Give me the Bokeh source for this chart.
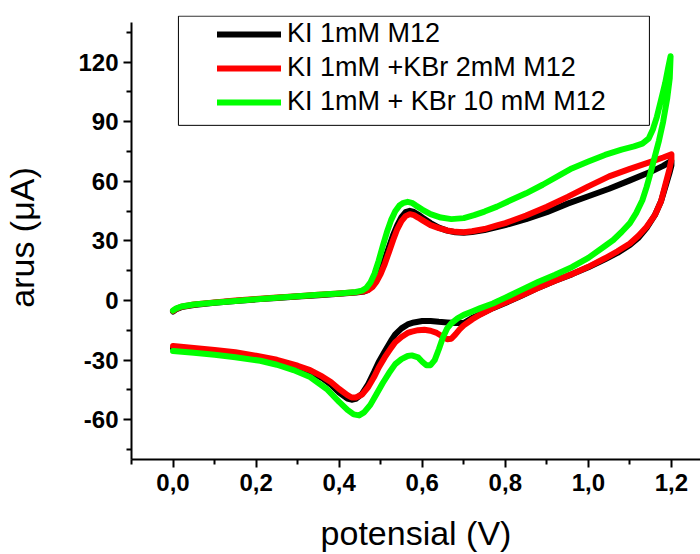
from bokeh.plotting import figure
from bokeh.models import (Range1d, FixedTicker, Legend, LegendItem,
                          BoxAnnotation, ColumnDataSource)
from bokeh.embed import file_html
from bokeh.resources import INLINE

# ---------------------------------------------------------------------------
# Cyclic voltammograms (potential in V, current in µA); each loop runs from
# 0.0 V up to 1.2 V and back to 0.0 V.
# ---------------------------------------------------------------------------
ki_potential = [
    0.000, 0.008, 0.02, 0.05, 0.10, 0.15, 0.20, 0.25, 0.30, 0.35, 0.40, 0.44,
    0.46, 0.47, 0.48, 0.49, 0.50, 0.51, 0.52, 0.53, 0.54, 0.55, 0.56, 0.57,
    0.58, 0.59, 0.60, 0.62, 0.64, 0.66, 0.68, 0.70, 0.72, 0.75, 0.78, 0.80,
    0.85, 0.90, 0.95, 1.00, 1.05, 1.10, 1.15, 1.18, 1.20,
    1.20, 1.195, 1.185, 1.175, 1.16, 1.14, 1.12, 1.10, 1.07, 1.04, 1.00, 0.96,
    0.92, 0.88, 0.84, 0.80, 0.77, 0.74, 0.72, 0.70, 0.68, 0.66, 0.64, 0.62,
    0.60, 0.58, 0.565, 0.55, 0.535, 0.525, 0.51, 0.495, 0.484, 0.47, 0.455,
    0.44, 0.43, 0.42, 0.40, 0.38, 0.36, 0.33, 0.30, 0.25, 0.20, 0.15, 0.10,
    0.05, 0.00,
]
ki_current = [
    -5.5, -4.3, -3.3, -2.2, -1.1, -0.2, 0.6, 1.3, 2.0, 2.7, 3.4, 4.0,
    4.6, 5.5, 7.5, 11.0, 15.5, 21.0, 27.0, 33.0, 38.0, 42.0, 44.5, 45.2,
    44.6, 43.3, 41.8, 39.0, 36.7, 35.2, 34.4, 34.2, 34.5, 35.5, 37.0, 38.0,
    41.0, 44.5, 48.8, 52.5, 56.3, 60.5, 64.8, 67.8, 70.3,
    68.0, 64.0, 57.0, 50.0, 43.0, 36.5, 31.5, 28.0, 24.0, 20.8, 16.8, 13.2,
    10.0, 6.5, 2.5, -1.2, -3.8, -6.8, -8.8, -11.3, -11.3, -11.0, -10.7, -10.3,
    -10.3, -11.0, -12.0, -14.0, -17.0, -20.2, -25.5, -31.0, -36.0, -42.0, -47.0,
    -49.5, -49.9, -49.3, -46.3, -42.3, -39.2, -35.8, -33.3, -30.6, -28.8, -27.2,
    -26.0, -24.9, -24.0,
]

ki_kbr2_potential = [
    0.000, 0.008, 0.02, 0.05, 0.10, 0.15, 0.20, 0.25, 0.30, 0.35, 0.40, 0.44,
    0.46, 0.47, 0.48, 0.49, 0.50, 0.51, 0.52, 0.53, 0.54, 0.55, 0.56, 0.57,
    0.58, 0.59, 0.60, 0.62, 0.64, 0.66, 0.68, 0.70, 0.72, 0.75, 0.78, 0.80,
    0.85, 0.90, 0.95, 1.00, 1.05, 1.10, 1.15, 1.18, 1.20,
    1.20, 1.195, 1.185, 1.175, 1.16, 1.14, 1.12, 1.10, 1.07, 1.04, 1.00, 0.96,
    0.92, 0.88, 0.84, 0.80, 0.77, 0.74, 0.72, 0.70, 0.69, 0.68, 0.67, 0.66,
    0.65, 0.635, 0.62, 0.605, 0.59, 0.575, 0.565, 0.55, 0.535, 0.525, 0.51,
    0.495, 0.484, 0.47, 0.455, 0.44, 0.43, 0.42, 0.40, 0.38, 0.36, 0.33, 0.30,
    0.25, 0.20, 0.15, 0.10, 0.05, 0.00,
]
ki_kbr2_current = [
    -5.2, -4.1, -3.1, -2.0, -0.9, 0.0, 0.8, 1.5, 2.2, 2.9, 3.6, 4.2,
    4.7, 5.3, 6.8, 9.5, 13.5, 18.5, 24.5, 30.5, 36.0, 40.0, 42.5, 43.5,
    43.0, 41.8, 40.5, 38.0, 36.5, 35.3, 34.6, 34.4, 34.9, 36.0, 37.8, 39.0,
    42.8, 47.2, 52.2, 57.5, 62.5, 66.3, 69.8, 72.0, 73.6,
    71.0, 66.0, 58.0, 50.0, 43.0, 37.0, 32.5, 28.7, 24.8, 21.3, 17.0, 13.3,
    10.0, 6.5, 2.7, -1.0, -3.8, -7.0, -9.5, -12.5, -14.5, -17.0, -19.2, -19.5,
    -18.2, -16.3, -15.2, -14.7, -14.9, -15.6, -16.3, -18.3, -21.0, -23.8, -28.5,
    -33.8, -38.5, -43.5, -47.3, -48.8, -48.8, -47.6, -44.5, -41.0, -38.3, -35.0,
    -32.8, -29.8, -27.8, -26.0, -24.9, -23.9, -22.9,
]

ki_kbr10_potential = [
    0.000, 0.008, 0.02, 0.05, 0.09, 0.15, 0.21, 0.25, 0.30, 0.35, 0.40, 0.44,
    0.455, 0.465, 0.475, 0.485, 0.495, 0.505, 0.515, 0.525, 0.535, 0.545,
    0.555, 0.565, 0.575, 0.585, 0.60, 0.62, 0.645, 0.67, 0.70, 0.725, 0.75,
    0.78, 0.81, 0.85, 0.89, 0.93, 0.96, 1.00, 1.04, 1.08, 1.11, 1.13, 1.145,
    1.155, 1.165, 1.175, 1.185, 1.192, 1.198,
    1.196, 1.19, 1.18, 1.17, 1.16, 1.15, 1.14, 1.13, 1.115, 1.10, 1.08, 1.06,
    1.04, 1.00, 0.96, 0.92, 0.88, 0.84, 0.80, 0.77, 0.74, 0.72, 0.70, 0.685,
    0.67, 0.66, 0.65, 0.64, 0.63, 0.62, 0.61, 0.60, 0.59, 0.575, 0.565, 0.55,
    0.535, 0.52, 0.505, 0.49, 0.475, 0.46, 0.448, 0.435, 0.42, 0.40, 0.37,
    0.33, 0.29, 0.25, 0.21, 0.15, 0.10, 0.05, 0.00,
]
ki_kbr10_current = [
    -5.0, -3.9, -3.0, -2.0, -1.2, -0.2, 0.8, 1.4, 2.2, 2.9, 3.6, 4.3,
    5.0, 6.3, 9.0, 13.5, 20.0, 27.5, 34.5, 40.5, 45.0, 47.8,
    49.2, 49.7, 49.2, 47.8, 45.8, 43.5, 41.8, 41.0, 41.5, 43.0, 44.8,
    47.3, 50.2, 54.0, 58.3, 63.0, 66.5, 70.0, 73.3, 76.0, 77.6, 79.0, 81.5,
    86.0, 92.5, 101.0, 109.5, 117.0, 123.0,
    112.0, 102.0, 90.0, 80.5, 72.5, 64.5, 57.0, 50.5, 44.0, 39.0, 34.5, 30.5,
    27.5, 21.5, 16.8, 13.0, 9.5, 5.5, 1.5, -1.5, -3.8, -5.5, -7.2, -9.0,
    -11.5, -14.0, -18.5, -24.5, -30.0, -32.5, -32.6, -30.8, -28.6, -27.6, -27.9,
    -29.5, -32.0, -36.5, -41.5, -47.0, -52.5, -56.3, -57.8, -57.3, -55.0, -51.0,
    -44.5, -38.5, -35.0, -32.3, -30.3, -28.5, -27.3, -26.3, -25.4,
]

series_labels = ["KI 1mM M12", "KI 1mM +KBr 2mM M12", "KI 1mM + KBr 10 mM M12"]
series_colors = ["#000000", "#ff0000", "#00ff00"]

x_major_ticks = [0.0, 0.2, 0.4, 0.6, 0.8, 1.0, 1.2]
x_tick_labels = ["0,0", "0,2", "0,4", "0,6", "0,8", "1,0", "1,2"]
x_minor_ticks = [-0.1, 0.1, 0.3, 0.5, 0.7, 0.9, 1.1]
y_major_ticks = [-60, -30, 0, 30, 60, 90, 120]
y_tick_labels = ["-60", "-30", "0", "30", "60", "90", "120"]
y_minor_ticks = [-75, -45, -15, 15, 45, 75, 105, 135]

FONT = "Liberation Sans"

p = figure(width=700, height=554, output_backend="svg", toolbar_location=None,
           x_range=Range1d(-0.1, 1.27), y_range=Range1d(-80, 143.5),
           min_border_left=131, min_border_right=0, min_border_top=15,
           min_border_bottom=91)
p.outline_line_color = None
p.xgrid.visible = False
p.ygrid.visible = False
p.background_fill_color = "white"
p.border_fill_color = "white"

sources = [
    ColumnDataSource(dict(v=ki_potential, i=ki_current)),
    ColumnDataSource(dict(v=ki_kbr2_potential, i=ki_kbr2_current)),
    ColumnDataSource(dict(v=ki_kbr10_potential, i=ki_kbr10_current)),
]
renderers = []
for src, color in zip(sources, series_colors):
    r = p.line("v", "i", source=src, line_color=color, line_width=6,
               line_join="round", line_cap="round")
    renderers.append(r)

# axes
p.xaxis.ticker = FixedTicker(ticks=x_major_ticks, minor_ticks=x_minor_ticks)
p.yaxis.ticker = FixedTicker(ticks=y_major_ticks, minor_ticks=y_minor_ticks)
p.xaxis.major_label_overrides = dict(zip(x_major_ticks, x_tick_labels))
p.yaxis.major_label_overrides = dict(zip(y_major_ticks, y_tick_labels))
p.yaxis.bounds = (-80, 140)

for ax in (p.xaxis[0], p.yaxis[0]):
    ax.axis_line_width = 2
    ax.axis_line_color = "black"
    ax.major_tick_line_width = 2
    ax.minor_tick_line_width = 2
    ax.major_tick_line_color = "black"
    ax.minor_tick_line_color = "black"
    ax.major_tick_out = 8
    ax.major_tick_in = 0
    ax.minor_tick_out = 5
    ax.minor_tick_in = 0
    ax.major_label_text_font = FONT
    ax.major_label_text_font_style = "bold"
    ax.major_label_text_font_size = "24px"
    ax.major_label_text_color = "black"
    ax.axis_label_text_font = FONT
    ax.axis_label_text_font_style = "normal"
    ax.axis_label_text_font_size = "34px"
    ax.axis_label_text_color = "black"

p.xaxis.major_label_standoff = 6
p.yaxis.major_label_standoff = 5

p.xaxis.axis_label = "potensial (V)"
p.xaxis.axis_label_standoff = 20
p.yaxis.axis_label = "arus (\u03bcA)"
p.yaxis.axis_label_standoff = 34

# legend with its frame
legend = Legend(
    items=[LegendItem(label=lab, renderers=[r])
           for lab, r in zip(series_labels, renderers)],
    location=(80, 336), margin=0, padding=6, spacing=3,
    glyph_width=64, glyph_height=30, label_height=30, label_standoff=6,
    label_text_font=FONT, label_text_font_size="27px",
    label_text_color="black", border_line_alpha=0, background_fill_alpha=0,
)
p.add_layout(legend, "center")
p.add_layout(BoxAnnotation(left=0.013, right=1.147, bottom=88.2, top=143.2,
                           fill_alpha=0, line_color="black", line_alpha=1,
                           line_width=1, line_dash="solid"))

open("out.html", "w").write(file_html(p, INLINE))
